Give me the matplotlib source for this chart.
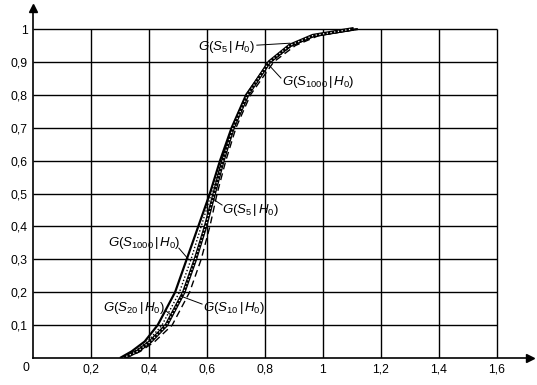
import matplotlib
matplotlib.use("Agg")
import matplotlib.pyplot as plt

plt.rcParams['font.family'] = ['Liberation Sans', 'DejaVu Sans']
plt.rcParams['mathtext.fontset'] = 'custom'
plt.rcParams['mathtext.rm'] = 'Liberation Sans'
plt.rcParams['mathtext.it'] = 'Liberation Sans:italic'

# probability levels and x at those levels
g_levels = [0, 0.02, 0.05, 0.1, 0.2, 0.3, 0.4, 0.5, 0.6, 0.7, 0.8, 0.9, 0.95, 0.98, 1.0]
s1000 = [0.30, 0.34, 0.385, 0.43, 0.49, 0.53, 0.57, 0.61, 0.645, 0.685, 0.735, 0.815, 0.89, 0.97, 1.12]
s20 = [0.31, 0.35, 0.395, 0.445, 0.505, 0.545, 0.58, 0.615, 0.65, 0.69, 0.74, 0.82, 0.895, 0.975, 1.12]
s10 = [0.32, 0.37, 0.42, 0.48, 0.54, 0.58, 0.61, 0.635, 0.665, 0.70, 0.75, 0.83, 0.905, 0.985, 1.12]
s5 = [0.31, 0.36, 0.405, 0.46, 0.52, 0.56, 0.595, 0.625, 0.655, 0.69, 0.74, 0.815, 0.885, 0.965, 1.10]

xticks = [0.2, 0.4, 0.6, 0.8, 1.0, 1.2, 1.4, 1.6]
xlabels = ['0,2', '0,4', '0,6', '0,8', '1', '1,2', '1,4', '1,6']
yticks = [0.1, 0.2, 0.3, 0.4, 0.5, 0.6, 0.7, 0.8, 0.9, 1.0]
ylabels = ['0,1', '0,2', '0,3', '0,4', '0,5', '0,6', '0,7', '0,8', '0,9', '1']

# label text, text anchor, leader start, leader end
labels = [
    (r'$G(S_5\,|\,H_0)$', (0.766, 0.945), 'right', (0.772, 0.951), (0.886, 0.957)),
    (r'$G(S_{1000}\,|\,H_0)$', (0.859, 0.839), 'left', (0.855, 0.851), (0.81, 0.894)),
    (r'$G(S_5\,|\,H_0)$', (0.652, 0.45), 'left', (0.652, 0.465), (0.621, 0.483)),
    (r'$G(S_{1000}\,|\,H_0)$', (0.507, 0.35), 'right', (0.503, 0.334), (0.538, 0.298)),
    (r'$G(S_{20}\,|\,H_0)$', (0.455, 0.152), 'right', (0.459, 0.143), (0.479, 0.128)),
    (r'$G(S_{10}\,|\,H_0)$', (0.586, 0.152), 'left', (0.583, 0.164), (0.51, 0.188)),
]

fig = plt.figure(figsize=(5.37, 3.85), dpi=100)
ax = fig.add_axes([33/537, 27/385, 497/537, 350/385])
ax.set_xlim(0, 1.714)
ax.set_ylim(0, 1.064)

# grid only inside the 0..1.6 x 0..1 box
ax.hlines(yticks, 0, 1.6, color='black', lw=1.0)
ax.vlines(xticks, 0, 1.0, color='black', lw=1.0)

for s in ['top', 'right']:
    ax.spines[s].set_visible(False)
for s in ['left', 'bottom']:
    ax.spines[s].set_linewidth(1.2)
ax.plot(1.0, 0, '>', color='black', ms=6, transform=ax.transAxes, clip_on=False)
ax.plot(0, 1.0, '^', color='black', ms=6, transform=ax.transAxes, clip_on=False)

ax.plot(s1000, g_levels, color='black', lw=1.6, solid_capstyle='butt')
ax.plot(s20, g_levels, color='black', lw=1.0, ls=(0, (1, 1.5)))
ax.plot(s10, g_levels, color='black', lw=1.0, ls=(0, (5, 3)))
ax.plot(s5, g_levels, color='black', lw=2.6)
ax.plot(s5, g_levels, color='white', lw=0.9, ls=(0, (1, 2)))

for txt, pos, ha, p0, p1 in labels:
    ax.text(pos[0], pos[1], txt, ha=ha, va='center', fontsize=9.5)
    ax.plot([p0[0], p1[0]], [p0[1], p1[1]], color='black', lw=0.7)

ax.set_xticks(xticks)
ax.set_xticklabels(xlabels)
ax.set_yticks(yticks)
ax.set_yticklabels(ylabels)
ax.tick_params(length=0, labelsize=8.8, pad=4)
ax.text(-0.012, -0.012, '0', ha='right', va='top', fontsize=8.8)

fig.savefig('out.png', dpi=100)
